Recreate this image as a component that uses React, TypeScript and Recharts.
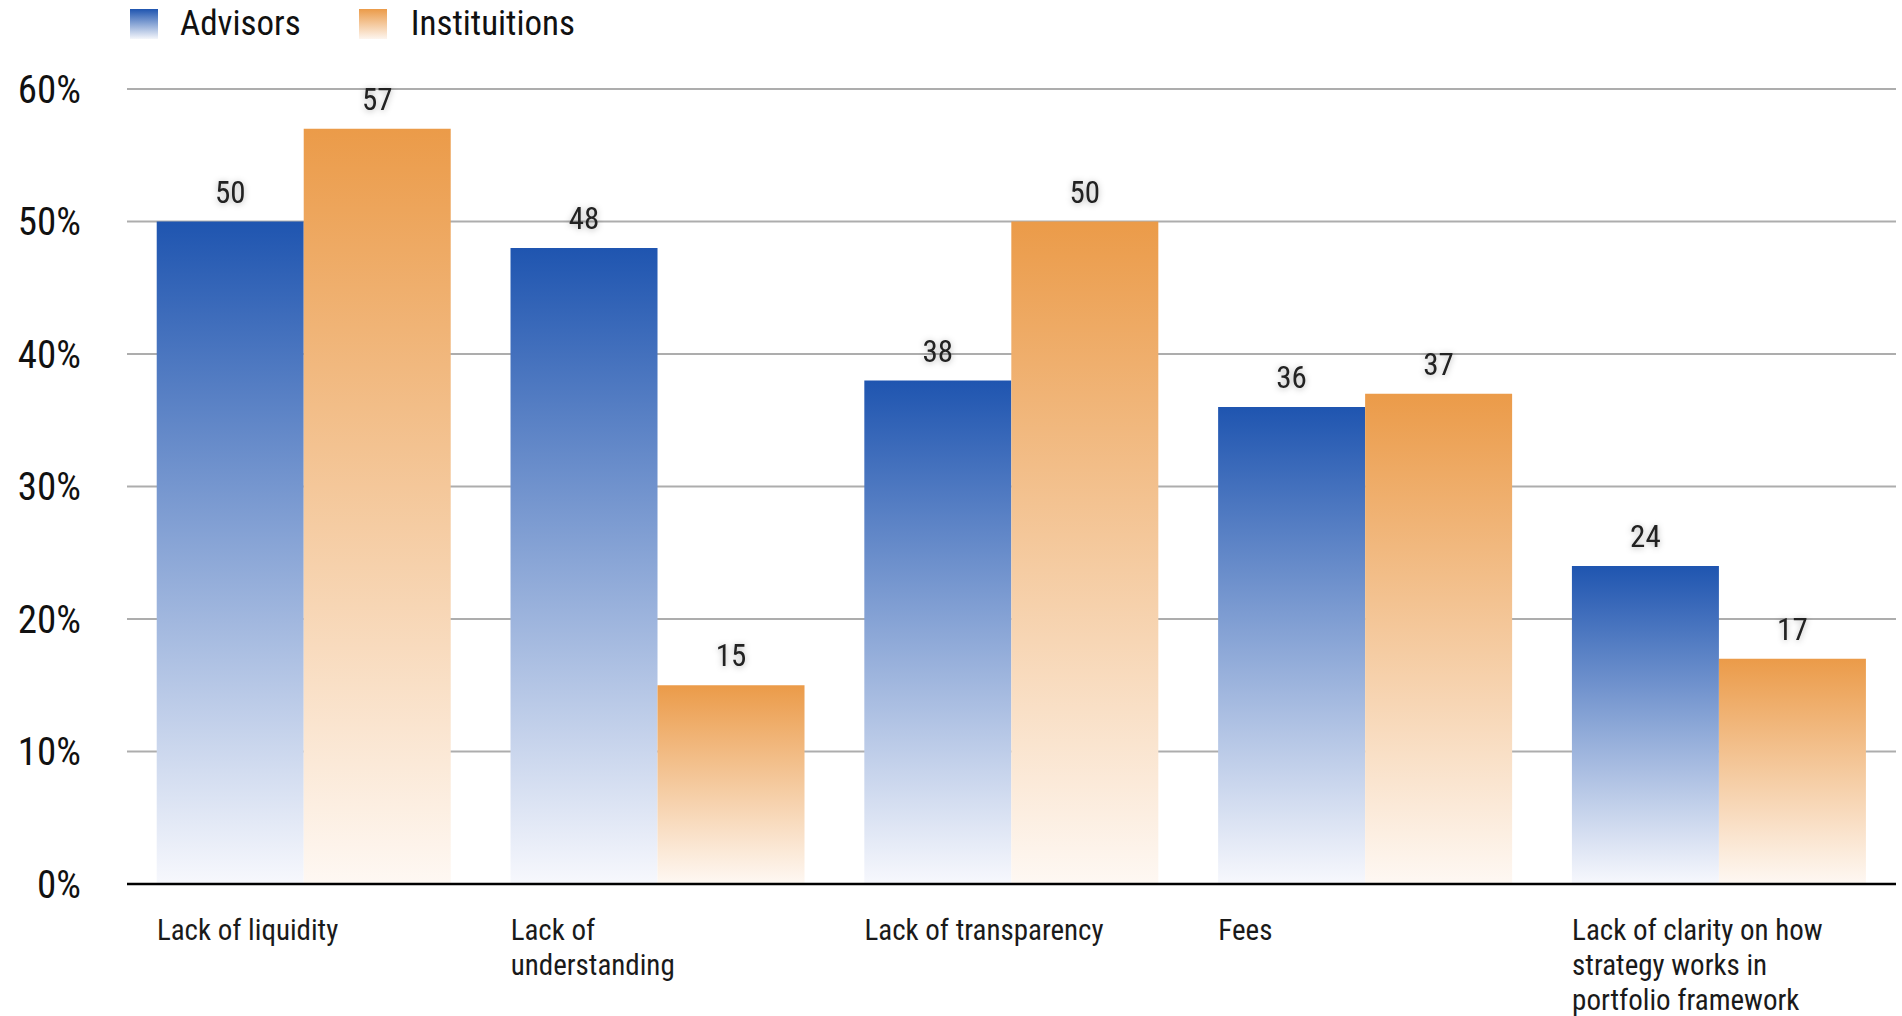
import React from "react";
import { BarChart, Bar, XAxis, YAxis, CartesianGrid, ReferenceLine, LabelList } from "recharts";

const categories = [
  "Lack of liquidity",
  "Lack of\nunderstanding",
  "Lack of transparency",
  "Fees",
  "Lack of clarity on how\nstrategy works in\nportfolio framework",
];
const advisors = [50, 48, 38, 36, 24];
const institutions = [57, 15, 50, 37, 17];
const yTicks = [0, 10, 20, 30, 40, 50, 60];

const FONT = "'Roboto Condensed', 'Liberation Sans Narrow', 'DejaVu Sans Condensed', sans-serif";
const BLUE = "#1f55b0";
const ORANGE = "#eb9b49";

const data = categories.map((name, i) => ({
  name,
  advisors: advisors[i],
  institutions: institutions[i],
}));

// category labels sit left-aligned under the first bar of the group
const CategoryTick = (props: any) => {
  const { x, y, payload } = props;
  const lines = String(payload.value).split("\n");
  return (
    <text x={x - 147} y={y + 56} textAnchor="start" fill="#1a1a1a" fontSize={29} fontFamily={FONT}>
      {lines.map((l, i) => (
        <tspan key={i} x={x - 147} dy={i === 0 ? 0 : 35}>
          {l}
        </tspan>
      ))}
    </text>
  );
};

const ValueLabel = (props: any) => {
  const { x, y, width, value } = props;
  return (
    <text
      x={x + width / 2}
      y={y - 19}
      textAnchor="middle"
      fill="#222"
      fontSize={31}
      fontFamily={FONT}
      style={{ filter: "drop-shadow(0 1px 3px rgba(0,0,0,0.3))" }}
    >
      {value}
    </text>
  );
};

export default function App() {
  return (
    <div style={{ position: "absolute", left: 0, top: 0, width: 1902, height: 1016, background: "#fff" }}>
      {/* legend */}
      <div
        style={{
          position: "absolute",
          left: 130,
          top: 3,
          display: "flex",
          alignItems: "center",
          fontFamily: FONT,
          fontSize: 35,
          color: "#111",
          zIndex: 2,
        }}
      >
        <span style={{ width: 28, height: 30, background: `linear-gradient(${BLUE}, #f4f6fb)`, display: "inline-block" }} />
        <span style={{ marginLeft: 22, marginRight: 58 }}>Advisors</span>
        <span style={{ width: 28, height: 30, background: `linear-gradient(${ORANGE}, #fdf5ee)`, display: "inline-block" }} />
        <span style={{ marginLeft: 24 }}>Instituitions</span>
      </div>
      <BarChart
        width={1902}
        height={1016}
        data={data}
        margin={{ top: 89, right: 6, bottom: 0, left: 0 }}
        barCategoryGap="8.4%"
        barGap={0}
      >
        <defs>
          <linearGradient id="gradBlue" x1="0" y1="0" x2="0" y2="1">
            <stop offset="0%" stopColor={BLUE} />
            <stop offset="100%" stopColor="#f7f8fd" />
          </linearGradient>
          <linearGradient id="gradOrange" x1="0" y1="0" x2="0" y2="1">
            <stop offset="0%" stopColor={ORANGE} />
            <stop offset="100%" stopColor="#fef8f3" />
          </linearGradient>
        </defs>
        <CartesianGrid vertical={false} stroke="#adadad" strokeWidth={2} />
        <XAxis
          dataKey="name"
          axisLine={false}
          tickLine={false}
          tickSize={0}
          tickMargin={0}
          height={132}
          interval={0}
          tick={<CategoryTick />}
        />
        <YAxis
          domain={[0, 60]}
          ticks={yTicks}
          tickFormatter={(v) => `${v}%`}
          axisLine={false}
          tickLine={false}
          tickSize={0}
          tickMargin={46}
          width={127}
          tick={{ fill: "#111", fontSize: 39, fontFamily: FONT }}
        />
        <Bar dataKey="advisors" fill="url(#gradBlue)" isAnimationActive={false}>
          <LabelList dataKey="advisors" content={<ValueLabel />} />
        </Bar>
        <Bar dataKey="institutions" fill="url(#gradOrange)" isAnimationActive={false}>
          <LabelList dataKey="institutions" content={<ValueLabel />} />
        </Bar>
        <ReferenceLine y={0} stroke="#000" strokeWidth={2.5} />
      </BarChart>
    </div>
  );
}
